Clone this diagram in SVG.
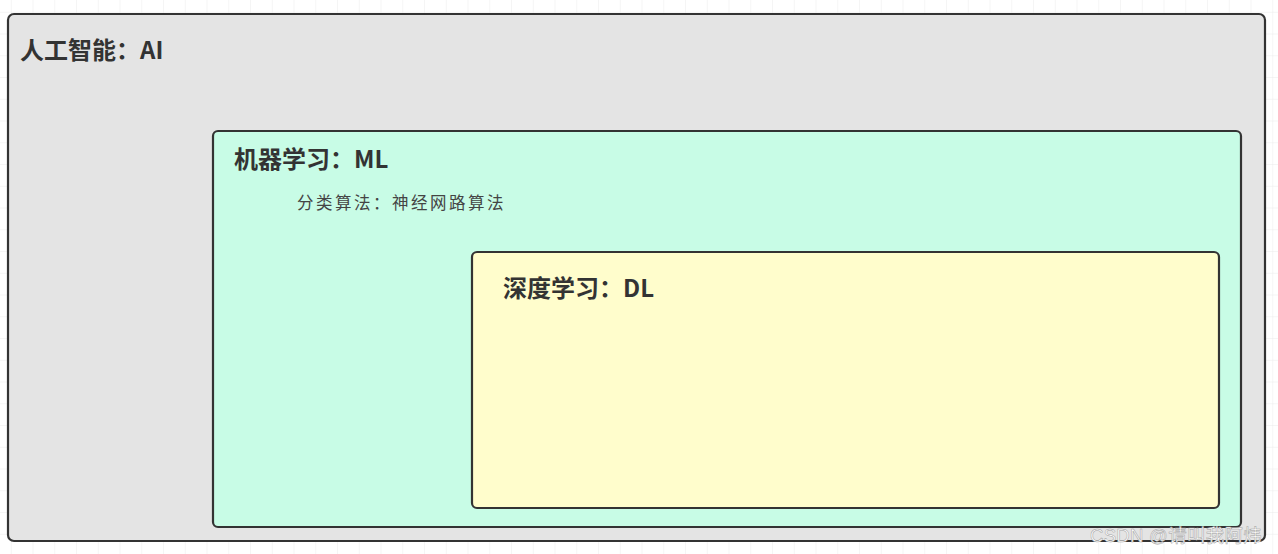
<svg xmlns="http://www.w3.org/2000/svg" width="1278" height="554" viewBox="0 0 1278 554">
  <defs>
    <pattern id="grid" x="-10" y="-9" width="21.75" height="21.75" patternUnits="userSpaceOnUse">
      <path d="M21.75 0 V21.75 M0 21.75 H21.75" fill="none" stroke="#ececec" stroke-width="1"/>
    </pattern>
  </defs>
  <style>
    .box { stroke: #333; stroke-width: 2.2; }
    .title { font-family: "Noto Sans CJK SC", "Noto Sans", sans-serif; font-weight: bold; font-size: 24px; fill: #333; }
    .sub { font-family: "Noto Sans CJK SC", "Noto Sans", sans-serif; font-size: 16.5px; fill: #444; letter-spacing: 2.5px; }
    .wm { font-family: "Liberation Sans", "Noto Sans CJK SC", sans-serif; font-size: 18.5px; fill: #ffffff; stroke: #a0a0a0; stroke-width: 0.5; letter-spacing: 0.3px; }
  </style>
  <rect width="1278" height="554" fill="#ffffff"/>
  <rect width="1278" height="554" fill="url(#grid)"/>

  <g id="node-ai">
    <rect class="box" x="8" y="14" width="1257" height="527" rx="6" fill="#e4e4e4"/>
    <text class="title" x="20" y="59">人工智能：AI</text>
  </g>

  <g id="node-ml">
    <rect class="box" x="213" y="131" width="1028" height="396" rx="5" fill="#c8fce6"/>
    <text class="title" x="234" y="168">机器学习：ML</text>
    <text class="sub" x="297" y="209">分类算法：神经网路算法</text>
  </g>

  <g id="node-dl">
    <rect class="box" x="472" y="252" width="747" height="256" rx="5" fill="#fffdcc"/>
    <text class="title" x="503" y="297">深度学习：DL</text>
  </g>

  <g id="connectors"></g>

  <text class="wm" x="1090" y="542">CSDN @请叫我阿炜</text>
</svg>
